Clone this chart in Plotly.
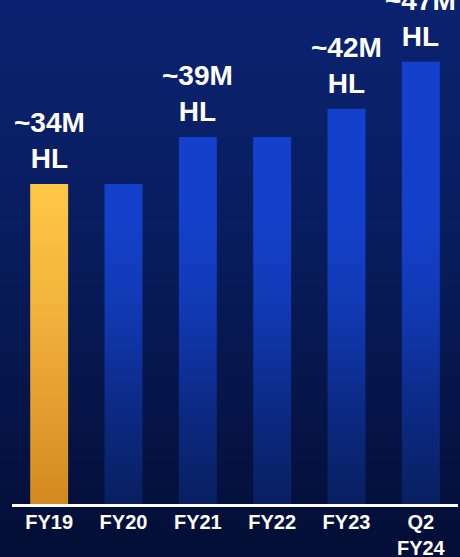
import plotly.graph_objects as go

# Annual volume (million hectolitres)
categories = ["FY19", "FY20", "FY21", "FY22", "FY23", "Q2<br>FY24"]
volumes = [34, 34, 39, 39, 42, 47]
value_labels = ["~34M<br>HL", "", "~39M<br>HL", "", "~42M<br>HL", "~47M<br>HL"]

# Colour ramps (bottom -> top) for each bar, with the value where the ramp ends
gold_ramp = ([[0.0, "#d38a20"], [0.6, "#f2b23c"], [1.0, "#ffc746"]], 34)
blue_ramp = ([[0.0, "#082060"], [0.35, "#0c2a86"], [0.7, "#1139b4"], [1.0, "#1341cb"]], 30)
bar_ramps = [gold_ramp] + [blue_ramp] * (len(volumes) - 1)

W, H = 460, 557
HALF = 0.255
FONT = "Liberation Sans, Arial, sans-serif"


def mix(c0, c1, t):
    a = [int(c0[i:i + 2], 16) for i in (1, 3, 5)]
    b = [int(c1[i:i + 2], 16) for i in (1, 3, 5)]
    return "rgb({},{},{})".format(*[round(a[k] + (b[k] - a[k]) * t) for k in range(3)])


fig = go.Figure()

# Bars drawn as filled outlines so each can carry its own vertical gradient
for i, (v, (ramp, stop)) in enumerate(zip(volumes, bar_ramps)):
    fig.add_trace(go.Scatter(
        x=[i - HALF, i + HALF, i + HALF, i - HALF, i - HALF],
        y=[0, 0, v, v, 0],
        mode="lines",
        line=dict(width=0),
        fill="toself",
        fillgradient=dict(type="vertical", colorscale=ramp, start=0, stop=stop),
        hoverinfo="skip",
        showlegend=False,
    ))

# Value labels above the bars
for i, (v, lab) in enumerate(zip(volumes, value_labels)):
    if lab:
        fig.add_annotation(
            x=i, y=v, text=lab, showarrow=False,
            xanchor="center", yanchor="bottom", yshift=8,
            font=dict(family=FONT, size=28, color="white", weight=700),
            align="center",
        )

# Background: vertical navy gradient
top_c, mid_c, bot_c = "#0c2579", "#081c5c", "#030c30"
N = 80
for k in range(N):
    t = k / (N - 1)
    col = mix(top_c, mid_c, t * 2) if t < 0.5 else mix(mid_c, bot_c, (t - 0.5) * 2)
    fig.add_shape(
        type="rect", xref="paper", yref="paper",
        x0=-0.1, x1=1.1,
        y0=1.2 - (k + 1) * (1.4 / N), y1=1.2 - k * (1.4 / N) + 0.001,
        fillcolor=col, line=dict(width=0), layer="below",
    )

fig.update_layout(
    width=W, height=H,
    margin=dict(l=12, r=2, t=0, b=53, autoexpand=False),
    paper_bgcolor="#03102f",
    plot_bgcolor="rgba(0,0,0,0)",
    showlegend=False,
    xaxis=dict(
        range=[-0.5, 5.5],
        tickvals=list(range(len(categories))),
        ticktext=categories,
        showgrid=False, zeroline=False,
        showline=True, linecolor="white", linewidth=3,
        ticks="", ticklen=0, ticklabelstandoff=-2,
        tickfont=dict(family=FONT, size=20, color="white", weight=700),
        automargin=False,
        fixedrange=True,
    ),
    yaxis=dict(
        range=[0, 504 / 9.41],
        showgrid=False, zeroline=False, showline=False,
        showticklabels=False, ticks="",
        automargin=False,
        fixedrange=True,
    ),
)

fig.write_html("out.html")
